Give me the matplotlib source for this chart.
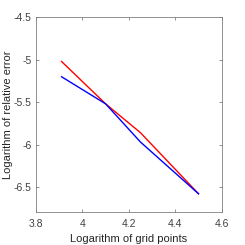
import matplotlib
matplotlib.use('Agg')
import matplotlib.pyplot as plt

plt.rcParams['font.family'] = ['Liberation Sans', 'DejaVu Sans']

# log of grid points and log of relative error
x_pts = [3.91, 4.10, 4.25, 4.50]
red_err = [-5.02, -5.52, -5.86, -6.58]
blue_err = [-5.20, -5.52, -5.97, -6.58]

fig = plt.figure(figsize=(2.45, 2.45), dpi=100)
ax = fig.add_axes([0.147, 0.133, 0.758, 0.796])

ax.plot(x_pts, red_err, color='red', lw=1.0)
ax.plot(x_pts, blue_err, color='blue', lw=1.0)

ax.set_xlim(3.8, 4.6)
ax.set_ylim(-6.8, -4.5)
ax.set_xticks([3.8, 4, 4.2, 4.4, 4.6])
ax.set_xticklabels(['3.8', '4', '4.2', '4.4', '4.6'])
ax.set_yticks([-6.5, -6, -5.5, -5, -4.5])
ax.set_yticklabels(['-6.5', '-6', '-5.5', '-5', '-4.5'])

ax.tick_params(direction='in', top=True, right=True, length=2.5, width=0.5,
               labelsize=7.5, color='#666666', labelcolor='#404040')
ax.tick_params(axis='x', pad=5)
ax.tick_params(axis='y', pad=3)
for s in ax.spines.values():
    s.set_linewidth(0.6)
    s.set_color('#808080')

ax.set_xlabel('Logarithm of grid points', fontsize=8, color='#262626', labelpad=3)
ax.set_ylabel('Logarithm of relative error', fontsize=8, color='#262626')
ax.yaxis.set_label_coords(-0.125, 0.5)

fig.savefig('out.png', dpi=100)
